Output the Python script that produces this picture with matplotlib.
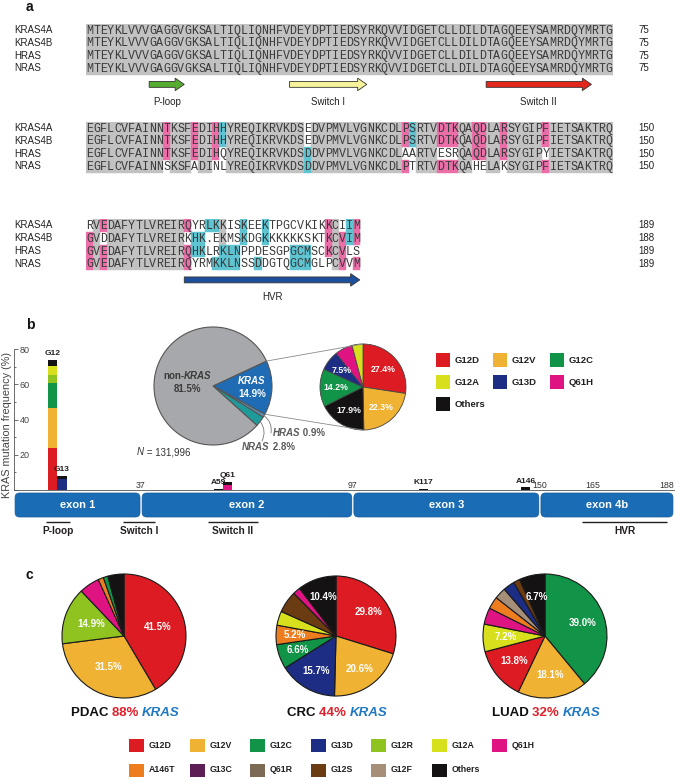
import numpy as np
import matplotlib
matplotlib.use("Agg")
import matplotlib.pyplot as plt
from matplotlib.patches import FancyBboxPatch, FancyArrow, Rectangle, ConnectionPatch
from matplotlib.offsetbox import TextArea, HPacker, VPacker, AnnotationBbox

plt.rcParams['font.family'] = ['Liberation Sans', 'DejaVu Sans']

# ---------------- panel a: alignment ----------------
names = ['KRAS4A', 'KRAS4B', 'HRAS', 'NRAS']
block1 = ['MTEYKLVVVGAGGVGKSALTIQLIQNHFVDEYDPTIEDSYRKQVVIDGETCLLDILDTAGQEEYSAMRDQYMRTG'] * 4
block2 = ['EGFLCVFAINNTKSFEDIHHYREQIKRVKDSEDVPMVLVGNKCDLPSRTVDTKQAQDLARSYGIPFIETSAKTRQ',
          'EGFLCVFAINNTKSFEDIHHYREQIKRVKDSEDVPMVLVGNKCDLPSRTVDTKQAQDLARSYGIPFIETSAKTRQ',
          'EGFLCVFAINNTKSFEDIHQYREQIKRVKDSDDVPMVLVGNKCDLAARTVESRQAQDLARSYGIPYIETSAKTRQ',
          'EGFLCVFAINNSKSFADINLYREQIKRVKDSDDVPMVLVGNKCDLPTRTVDTKQAHELAKSYGIPFIETSAKTRQ']
block3 = ['RVEDAFYTLVREIRQYRLKKISKEEKTPGCVKIKKCIIM',
          'GVDDAFYTLVREIRKHK.EKMSKDGKKKKKKSKTKCVIM',
          'GVEDAFYTLVREIRQHKLRKLNPPDESGPGCMSCKCVLS',
          'GVEDAFYTLVREIRQYRMKKLNSSDDGTQGCMGLPCVVM']
block_start = [1, 76, 151]
block_end = [['75'] * 4, ['150'] * 4, ['189', '188', '189', '189']]

# shading by residue number: p = pink, c = cyan, g = grey, w = white
shade2 = {
    'KRAS4A': {'p': [87, 91, 94, 121, 126, 127, 128, 131, 132, 135, 141], 'c': [95, 122], 'w': [107]},
    'KRAS4B': {'p': [87, 91, 94, 121, 126, 127, 128, 131, 132, 135, 141], 'c': [95, 122], 'w': [107]},
    'HRAS': {'p': [87, 91, 94, 131, 132, 135], 'c': [107], 'w': [95, 121, 122, 126, 127, 128, 141]},
    'NRAS': {'p': [121, 126, 127, 128, 141], 'c': [107], 'w': [87, 91, 94, 95, 122, 131, 132, 135]},
}
block3_grey = [152] + list(range(154, 165)) + [186]
shade3 = {
    'KRAS4A': {'p': [153, 165, 185, 189], 'c': [168, 169, 173, 176, 188], 'g': [170]},
    'KRAS4B': {'p': [151, 185, 187, 189], 'c': [166, 167, 173, 176, 188], 'g': [170]},
    'HRAS': {'p': [151, 153, 165, 185, 187], 'c': [166, 167, 170, 171, 172, 180, 181, 182]},
    'NRAS': {'p': [151, 153, 165, 187, 189], 'c': [169, 170, 171, 172, 175, 180, 181, 182]},
}
feat_name = ['P-loop', 'Switch I', 'Switch II', 'HVR']
feat_block = [0, 0, 0, 2]
feat_from = [10, 30, 58, 165]
feat_to = [14, 40, 72, 189]

# ---------------- panel b ----------------
ras_genes = ['KRAS', 'HRAS', 'NRAS', 'non-KRAS']
ras_share = [14.9, 0.9, 2.8, 81.5]
n_total = '131,996'
kras_alleles = ['G12D', 'G12V', 'Others', 'G12C', 'G13D', 'Q61H', 'G12A']
kras_allele_share = [27.4, 22.3, 17.9, 14.2, 7.5, 6.6, 4.1]
kras_allele_shown = ['G12D', 'G12V', 'Others', 'G12C', 'G13D']

sites = ['G12', 'G13', 'A59', 'Q61', 'K117', 'A146']
site_pos = [12, 13, 59, 61, 117, 146]
freq_g12d = [24.0, 0, 0, 0, 0, 0]
freq_g12v = [22.5, 0, 0, 0, 0, 0]
freq_g12c = [14.4, 0, 0, 0, 0, 0]
freq_g12r = [4.3, 0, 0, 0, 0, 0]
freq_g12a = [5.2, 0, 0, 0, 0, 0]
freq_g13d = [0, 6.2, 0, 0, 0, 0]
freq_q61h = [0, 0, 0, 2.7, 0, 0]
freq_other = [3.4, 1.7, 0.6, 2.0, 0.6, 1.5]

exon_names = ['exon 1', 'exon 2', 'exon 3', 'exon 4b']
exon_start = [1, 37, 97, 150]
exon_end = [37, 97, 150, 188]
boundary_ticks = [37, 97, 150, 165, 188]
regions = ['P-loop', 'Switch I', 'Switch II', 'HVR']
region_from = [10, 32, 56, 162]
region_to = [17, 41, 70, 186]
legend_b = ['G12D', 'G12V', 'G12C', 'G12A', 'G13D', 'Q61H', 'Others']

# ---------------- panel c ----------------
cancers = ['PDAC', 'CRC', 'LUAD']
kras_rate = ['88%', '44%', '32%']
pdac_alleles = ['G12D', 'G12V', 'G12R', 'Q61H', 'A146T', 'G12C', 'Others']
pdac_share = [41.5, 31.5, 14.9, 5.3, 1.4, 1.2, 4.2]
pdac_shown = ['G12D', 'G12V', 'G12R']
crc_alleles = ['G12D', 'G12V', 'G13D', 'G12C', 'A146T', 'G12A', 'G12S', 'Q61H', 'Others']
crc_share = [29.8, 20.6, 15.7, 6.6, 5.2, 3.8, 5.9, 2.0, 10.4]
crc_shown = ['G12D', 'G12V', 'G13D', 'G12C', 'A146T', 'Others']
luad_alleles = ['G12C', 'G12V', 'G12D', 'G12A', 'Q61H', 'A146T', 'G12F', 'G13D', 'G12S', 'Others']
luad_share = [39.0, 18.1, 13.8, 7.2, 4.3, 3.2, 3.0, 3.0, 1.7, 6.7]
luad_shown = ['G12C', 'G12V', 'G12D', 'G12A', 'Others']
legend_c = ['G12D', 'G12V', 'G12C', 'G13D', 'G12R', 'G12A', 'Q61H',
            'A146T', 'G13C', 'Q61R', 'G12S', 'G12F', 'Others']

# ---------------- styles ----------------
allele_color = {'G12D': '#dc1c22', 'G12V': '#f0b233', 'G12C': '#119447', 'G13D': '#1c2d83',
                'G12R': '#8fc31f', 'G12A': '#d8df1c', 'Q61H': '#df1382', 'A146T': '#ee7d20',
                'G13C': '#5d1d55', 'Q61R': '#7c6a54', 'G12S': '#6b3b11', 'G12F': '#a68f79',
                'Others': '#141212'}
ras_color = ['#1f6cb4', '#5f8fae', '#1e9a9a', '#a7a8ab']
shade_col = {'g': '#c2c2c2', 'p': '#eb6ea9', 'c': '#5fc4d2'}
feat_color = ['#55ad2f', '#f6f39a', '#e3271b', '#1d4f9c']
DARK = '#231f20'
RED = '#e0202a'
BLUE = '#1f78c4'

W, H = 675, 778
fig = plt.figure(figsize=(W / 100, H / 100), dpi=100)


def px_axes(x0, y0, w, h):
    return fig.add_axes([x0 / W, 1 - (y0 + h) / H, w / W, h / H])


def rich(ax, xy, lines, size, color, ha=0.5, va=0.5):
    rows = []
    for parts in lines:
        boxes = []
        for part in parts:
            txt, style = part[0], part[1]
            col = part[2] if len(part) > 2 else color
            tp = dict(fontsize=size, color=col,
                      fontweight='bold' if 'b' in style else 'normal',
                      fontstyle='italic' if 'i' in style else 'normal')
            boxes.append(TextArea(txt, textprops=tp))
        rows.append(HPacker(children=boxes, align='baseline', pad=0, sep=0))
    box = rows[0] if len(rows) == 1 else VPacker(children=rows, align='center', pad=0, sep=2)
    ax.add_artist(AnnotationBbox(box, xy, xycoords='data', frameon=False,
                                 box_alignment=(ha, va), pad=0))


def shade_codes(b, name, n):
    start = block_start[b]
    if b == 2:
        codes = ['w'] * n
        for r in block3_grey:
            codes[r - start] = 'g'
        spec = shade3[name]
    else:
        codes = ['g'] * n
        spec = shade2[name] if b == 1 else {}
    for k, res in spec.items():
        for r in res:
            codes[r - start] = k
    return codes


# ---------------- draw panel a ----------------
SEQ_X0, CELL_W, ROW_H = 86, 7.02, 12.8
ROW0_Y = [30, 128, 225.5]
block_axes = []
for b, seqs in enumerate([block1, block2, block3]):
    ax = px_axes(SEQ_X0, ROW0_Y[b] - ROW_H / 2, 75 * CELL_W, 7 * ROW_H)
    ax.set_xlim(0, 75)
    ax.set_ylim(6.5, -0.5)
    ax.axis('off')
    block_axes.append(ax)
    for j, (name, seq) in enumerate(zip(names, seqs)):
        codes = shade_codes(b, name, len(seq))
        for k in 'gpc':
            xs = np.array([i for i, c in enumerate(codes) if c == k])
            if len(xs):
                ax.bar(xs + 0.5, 1.0, width=1.0, bottom=j - 0.5, color=shade_col[k],
                       edgecolor=shade_col[k], linewidth=0.3)
        for i, ch in enumerate(seq):
            ax.text(i + 0.5, j + 0.28, ch, ha='center', va='baseline',
                    family='Liberation Mono', fontsize=8.4, color='#3a3a3a')
        ax.text((14 - SEQ_X0) / CELL_W, j, name, ha='left', va='center',
                fontsize=7, color='#222222', clip_on=False)
        ax.text((638 - SEQ_X0) / CELL_W, j, block_end[b][j], ha='left', va='center',
                fontsize=7, color='#222222', clip_on=False)

for name, b, r0, r1, col in zip(feat_name, feat_block, feat_from, feat_to, feat_color):
    ax = block_axes[b]
    x0 = r0 - block_start[b]
    x1 = r1 - block_start[b] + 1
    ax.add_patch(FancyArrow(x0, 4.25, x1 - x0, 0, width=0.46, head_width=0.98,
                            head_length=1.3, length_includes_head=True,
                            fc=col, ec='#333333', lw=0.6))
    ax.text((x0 + x1) / 2, 5.6, name, ha='center', va='center', fontsize=7, color='#222222')

# ---------------- draw panel b ----------------
CB, RB = (213, 386), 59
ax_big = px_axes(CB[0] - RB * 1.1, CB[1] - RB * 1.1, 2.2 * RB, 2.2 * RB)
w_big, _ = ax_big.pie(ras_share, colors=ras_color, startangle=25, counterclock=False,
                      wedgeprops=dict(edgecolor='#555555', linewidth=0.8))
ax_big.set_xlim(-1.1, 1.1)
ax_big.set_ylim(-1.1, 1.1)


def mid_pt(w, d):
    a = np.deg2rad((w.theta1 + w.theta2) / 2)
    return d * np.cos(a), d * np.sin(a)


rich(ax_big, mid_pt(w_big[3], 0.44), [[('non-', 'b'), ('KRAS', 'bi')], [('81.5%', 'b')]], 7, '#3a3a3a')
rich(ax_big, mid_pt(w_big[0], 0.66), [[('KRAS', 'bi')], [('14.9%', 'b')]], 7, 'white')

CS, RS = (363, 387), 43
ax_small = px_axes(CS[0] - RS * 1.1, CS[1] - RS * 1.1, 2.2 * RS, 2.2 * RS)
w_small, _ = ax_small.pie(kras_allele_share, colors=[allele_color[a] for a in kras_alleles],
                          startangle=90, counterclock=False,
                          wedgeprops=dict(edgecolor='#444444', linewidth=0.6))
ax_small.set_xlim(-1.1, 1.1)
ax_small.set_ylim(-1.1, 1.1)
for w, a, v in zip(w_small, kras_alleles, kras_allele_share):
    if a in kras_allele_shown:
        x, y = mid_pt(w, 0.63)
        ax_small.text(x, y, f'{v:.1f}%', ha='center', va='center', color='white',
                      fontsize=6.3, fontweight='bold')

kw = w_big[0]
for ang, yb in [(kw.theta2, 1), (kw.theta1, -1)]:
    a = np.deg2rad(ang)
    fig.add_artist(ConnectionPatch(xyA=(np.cos(a), np.sin(a)), coordsA=ax_big.transData,
                                   xyB=(0, yb), coordsB=ax_small.transData,
                                   color='#8a8a8a', lw=0.6))

# mutation frequency bars
ax_bar = px_axes(14, 349, 660, 141)
ax_bar.set_xlim(1, 188)
ax_bar.set_ylim(0, 80)
ax_bar.patch.set_alpha(0)
for s in ['top', 'right']:
    ax_bar.spines[s].set_visible(False)
for s in ['left', 'bottom']:
    ax_bar.spines[s].set_color('#555555')
    ax_bar.spines[s].set_linewidth(0.6)
ax_bar.set_xticks([])
ax_bar.set_yticks([0, 20, 40, 60, 80])
ax_bar.set_yticklabels(['', '20', '40', '60', '80'])
ax_bar.set_yticks([10, 30, 50, 70], minor=True)
ax_bar.tick_params(axis='y', which='both', direction='in', color='#555555', width=0.6,
                   pad=-4, labelsize=6.5, labelcolor='#444444')
ax_bar.tick_params(axis='y', which='major', length=3)
ax_bar.tick_params(axis='y', which='minor', length=1.5)
for lab in ax_bar.get_yticklabels():
    lab.set_ha('left')

bar_w = 2.6
bar_x = []
for p in site_pos:
    x = float(p)
    if bar_x and x - bar_x[-1] < bar_w:
        x = bar_x[-1] + bar_w
    bar_x.append(x)
stack = [('G12D', freq_g12d), ('G12V', freq_g12v), ('G12C', freq_g12c), ('G12R', freq_g12r),
         ('G12A', freq_g12a), ('G13D', freq_g13d), ('Q61H', freq_q61h), ('Others', freq_other)]
bottom = np.zeros(len(sites))
for allele, vals in stack:
    vals = np.array(vals, dtype=float)
    ax_bar.bar(bar_x, vals, width=bar_w, bottom=bottom, color=allele_color[allele], linewidth=0)
    bottom += vals
for x, top, s in zip(bar_x, bottom, sites):
    ax_bar.text(x, top + 1.5, s, ha='center', va='bottom', fontsize=6,
                fontweight='bold', color=DARK)

# exon diagram
ax_ex = px_axes(14, 480, 660, 60)
ax_ex.set_xlim(1, 188)
ax_ex.set_ylim(540, 480)
ax_ex.axis('off')
px_per_res = 660 / 187
for name, a, b in zip(exon_names, exon_start, exon_end):
    ax_ex.add_patch(FancyBboxPatch((a + 0.3, 493), (b - a) - 0.6, 24,
                                   boxstyle='round,pad=0,rounding_size=1.3',
                                   mutation_aspect=px_per_res,
                                   fc='#1a6cb4', ec='#135a9c', lw=0.5))
    ax_ex.text((a + b) / 2, 505.5, name, ha='center', va='center', color='white',
               fontsize=8, fontweight='bold')
for t in boundary_ticks:
    ax_ex.text(t, 486, str(t), ha='right' if t == boundary_ticks[-1] else 'center',
               va='center', fontsize=6.3, color='#333333')
for name, a, b in zip(regions, region_from, region_to):
    ax_ex.plot([a, b], [521.7, 521.7], color=DARK, lw=1.0, solid_capstyle='butt')
    ax_ex.text((a + b) / 2, 531, name, ha='center', va='center', fontsize=7.3,
               fontweight='bold', color=DARK)

# ---------------- draw panel c ----------------
PIE_Y = 636
c_x = [124, 336, 545]
c_r = [62, 60, 62]
c_dist = [0.56, 0.68, 0.64]
c_data = [(pdac_alleles, pdac_share, pdac_shown), (crc_alleles, crc_share, crc_shown),
          (luad_alleles, luad_share, luad_shown)]
for cx, r, d, (alle, share, shown) in zip(c_x, c_r, c_dist, c_data):
    ax = px_axes(cx - r * 1.1, PIE_Y - r * 1.1, 2.2 * r, 2.2 * r)
    ws, _ = ax.pie(share, colors=[allele_color[a] for a in alle], startangle=90,
                   counterclock=False, wedgeprops=dict(edgecolor='#1a1a1a', linewidth=0.8))
    ax.set_xlim(-1.1, 1.1)
    ax.set_ylim(-1.1, 1.1)
    for w, a, v in zip(ws, alle, share):
        if a in shown:
            x, y = mid_pt(w, d)
            ax.text(x, y, f'{v:.1f}%', ha='center', va='center', color='white',
                    fontsize=7, fontweight='bold')

# ---------------- overlay: labels, legends ----------------
ov = px_axes(0, 0, W, H)
ov.set_xlim(0, W)
ov.set_ylim(H, 0)
ov.axis('off')

for lab, x, y in [('a', 29, 7), ('b', 30, 325), ('c', 29, 575)]:
    ov.text(x, y, lab, ha='center', va='center', fontsize=10, fontweight='bold', color='#111111')

ov.text(7, 425, 'KRAS mutation frequency (%)', rotation=90, ha='center', va='center',
        fontsize=7.8, color='#444444')

# leader lines for HRAS / NRAS
def big_pt(w, rr=1.0):
    a = np.deg2rad((w.theta1 + w.theta2) / 2)
    return CB[0] + RB * rr * np.cos(a), CB[1] - RB * rr * np.sin(a)


ov.annotate('', xy=big_pt(w_big[1]), xytext=(271, 433),
            arrowprops=dict(arrowstyle='-', color='#777777', lw=0.6,
                            connectionstyle='arc3,rad=0.3', shrinkA=0, shrinkB=0))
ov.annotate('', xy=big_pt(w_big[2]), xytext=(262, 441),
            arrowprops=dict(arrowstyle='-', color='#777777', lw=0.6,
                            connectionstyle='arc3,rad=0.3', shrinkA=0, shrinkB=0))
rich(ov, (273, 433), [[('HRAS', 'bi'), (' 0.9%', 'b')]], 7, '#5a5a5a', ha=0, va=0.5)
rich(ov, (242, 447), [[('NRAS', 'bi'), (' 2.8%', 'b')]], 7, '#5a5a5a', ha=0, va=0.5)
rich(ov, (137, 452), [[('N', 'i'), (' = ' + n_total, '')]], 7, '#333333', ha=0, va=0.5)

# legend b
for k, a in enumerate(legend_b):
    col, row = k % 3, k // 3
    x, y = 436 + col * 57, 360 + row * 22
    ov.add_patch(Rectangle((x, y - 7), 14, 14, fc=allele_color[a], ec='none'))
    ov.text(x + 19, y, a, ha='left', va='center', fontsize=6.8, fontweight='bold', color=DARK)

# titles c
for cx, name, rate in zip(c_x, cancers, kras_rate):
    rich(ov, (cx + 1, 713), [[(name + ' ', 'b', '#111111'), (rate + ' ', 'b', RED),
                             ('KRAS', 'bi', BLUE)]], 9.5, '#111111')

# legend c
for k, a in enumerate(legend_c):
    col, row = k % 7, k // 7
    x, y = 129 + col * 60.5, 745 + row * 25
    ov.add_patch(Rectangle((x, y - 6.5), 15, 13, fc=allele_color[a], ec='none'))
    ov.text(x + 20, y, a, ha='left', va='center', fontsize=6.3, fontweight='bold', color=DARK)

fig.savefig('out.png', dpi=100, facecolor='white')
